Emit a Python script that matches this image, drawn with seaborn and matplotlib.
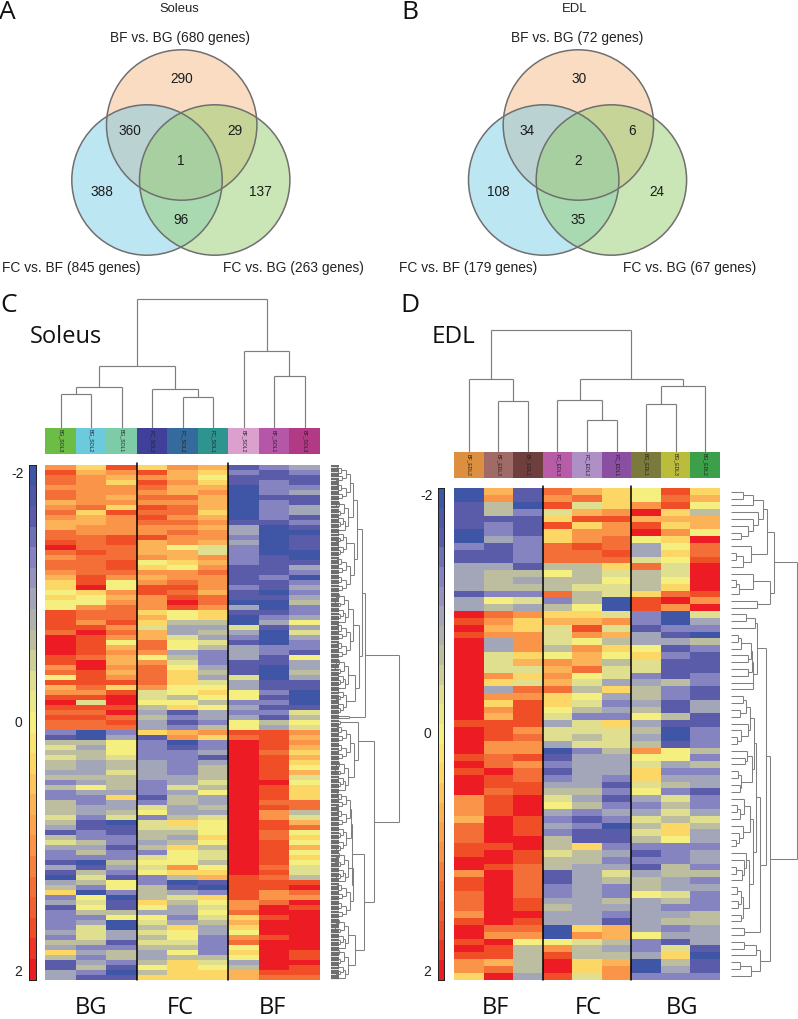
import numpy as np
import pandas as pd
import matplotlib.pyplot as plt
import seaborn as sns
from matplotlib.colors import LinearSegmentedColormap, ListedColormap
from matplotlib.patches import Circle

W, H = 798, 1019

# heatmap values in steps of 1/3 z-score (-6 = -2, 6 = 2)
soleus_rows = [
    [3,1,5,1,3,2,-5,-4,-3],[5,2,3,5,2,1,-4,-5,-4],[4,3,2,3,2,0,-5,-5,-5],[4,3,1,5,3,1,-5,-4,-5],
    [3,3,3,4,2,2,-6,-4,-4],[4,3,3,3,2,3,-6,-4,-3],[4,3,2,4,4,2,-6,-5,-5],[2,3,3,3,3,2,-6,-4,-5],
    [3,4,1,5,4,2,-6,-4,-3],[4,1,5,4,4,1,-6,-4,-3],[3,2,3,5,3,2,-6,-4,-5],[2,2,3,4,4,3,-5,-5,-4],
    [2,3,3,3,3,2,-3,-6,-5],[4,3,3,3,4,3,-3,-6,-6],[4,4,5,5,3,3,-4,-6,-5],[5,4,5,2,3,2,-3,-6,-5],
    [6,4,4,2,0,-1,-4,-6,-5],[4,5,4,2,2,-1,-4,-6,-6],[3,4,4,3,2,3,-4,-5,-6],[4,4,5,0,1,2,-4,-5,-5],
    [4,4,5,1,0,3,-5,-5,-3],[3,4,4,3,3,4,-5,-5,-4],[2,5,3,2,3,3,-5,-4,-6],[1,5,0,3,4,3,-5,-5,-4],
    [1,6,0,5,5,3,-4,-5,-3],[0,1,3,5,4,2,-5,-6,-4],[1,0,2,3,5,4,-5,-5,-3],[0,0,3,3,6,4,-6,-6,-2],
    [0,3,4,3,5,3,-3,-6,-4],[5,4,4,1,0,1,-5,-5,-4],[5,4,4,2,0,1,-6,-4,-3],[5,3,5,1,-2,-2,-6,-3,0],
    [5,5,3,-1,-3,-3,-1,-5,-3],[4,6,4,2,-3,-2,-3,-6,-1],[6,5,3,2,-1,-3,-4,-6,-3],[6,5,0,4,0,-1,-5,-6,-4],
    [6,5,2,4,0,-2,-3,-4,-4],[6,5,3,3,-3,-4,-3,-4,-5],[5,4,2,0,-2,-4,-3,-5,0],[5,6,2,3,-1,-4,-5,-5,-3],
    [3,6,3,4,0,-3,-5,-6,-3],[4,5,2,4,1,-2,-5,-6,-2],[0,5,3,4,1,-3,-1,-6,-3],[5,5,5,4,1,-1,-3,-5,-5],
    [2,4,1,3,0,0,-3,-5,-5],[3,3,5,-1,0,1,0,-4,-6],[5,5,6,-1,-2,0,0,-5,-6],[6,-1,6,0,0,-2,-4,-4,-6],
    [5,5,5,-2,1,0,-3,-5,-5],[4,4,6,-3,-5,-3,-4,-4,-1],[5,5,4,-2,-4,-3,-3,-5,-2],[4,4,5,-3,-5,-4,0,-2,0],
    [4,4,4,-3,-4,-2,0,-3,-1],[-4,-6,-4,1,2,3,5,5,3],[-5,-6,-3,-5,3,1,4,5,2],[-2,-2,0,-4,-6,-4,6,5,3],
    [-1,-3,0,-4,-5,-4,6,5,2],[-2,-2,0,-4,-4,-3,6,4,1],[-1,-2,-1,-4,-4,-5,6,5,2],[-2,-3,-2,-3,-4,-3,6,5,1],
    [-2,-3,-2,-3,-4,-2,6,5,0],[-3,-3,-1,-3,-4,-2,6,5,2],[-2,-2,-2,-3,-3,-2,6,5,-1],[-4,-3,-2,-4,-3,-1,6,6,0],
    [-2,0,-2,-4,-1,-2,6,5,1],[-4,-3,-3,-4,-3,0,6,5,1],[-4,-4,1,-5,-2,-3,6,5,1],[-2,-4,-3,-4,-2,-3,6,4,4],
    [-2,-3,-3,-1,-3,-2,6,5,4],[-2,-3,-2,0,-3,-3,6,3,-2],[-1,-4,-1,-4,-2,-1,6,3,-1],[-2,-5,-6,-1,1,0,6,5,2],
    [-3,-5,-5,-1,-1,0,6,5,4],[-5,-4,-5,-2,-2,0,6,4,0],[-2,-4,-4,-2,-3,1,6,4,1],[-1,-2,-4,-3,-2,0,6,5,0],
    [-3,-3,-5,-2,1,-2,6,5,2],[-4,-2,-4,-4,0,-1,6,5,0],[-4,-4,-4,-1,0,-1,6,5,1],[-5,-6,-2,0,0,-2,6,5,0],
    [-3,-5,-3,-1,3,0,6,4,-1],[-5,-2,-4,0,1,1,6,5,-1],[-6,-1,-5,-4,-2,2,5,4,-2],[-3,-2,0,-4,-6,-5,5,5,5],
    [-2,-4,0,-2,-5,-6,5,5,6],[1,-6,-4,-2,-3,-4,5,3,4],[-4,0,-6,-2,-1,1,5,3,3],[-3,-1,-5,1,-2,0,3,4,6],
    [-5,0,-5,0,-3,-1,3,6,5],[-4,-2,-2,-3,-3,0,4,6,6],[-4,-4,0,0,-4,-1,1,5,6],[-4,-3,-6,-1,-3,-2,2,6,6],
    [-4,-1,-6,-2,1,-3,1,6,6],[-3,-1,-3,-1,0,-3,0,6,6],[-4,-1,-3,-2,0,-4,3,5,6],[-2,-2,-5,-1,-1,-4,4,6,6],
    [-3,-4,-4,-2,-2,-4,0,6,6],[1,-3,-2,-3,0,-4,1,6,5],[-2,-4,-2,-3,-2,-2,0,6,5],[-5,-3,-4,-2,1,-1,-3,6,6],
    [-5,-2,-5,0,1,0,-2,6,5],[-3,-4,-6,-2,1,1,2,5,5],[-3,-5,-5,1,1,1,2,4,4],
]

edl_rows = [
    [-6,2,-5,4,2,1,0,5,1],[-6,3,-5,3,4,1,0,4,2],[-5,-2,-6,5,-1,1,3,5,0],[-5,-2,-4,-1,2,3,6,1,-2],
    [-5,-5,-5,1,5,5,2,2,2],[-5,-4,-5,5,1,3,5,1,2],[-6,-4,-5,1,3,3,6,3,0],[-6,-3,-4,1,3,4,0,1,6],
    [-4,-5,-4,4,5,4,-3,0,4],[-5,-5,-4,4,4,5,-3,1,4],[-5,-5,-4,4,4,4,-1,0,5],[-3,-3,-5,-2,-2,1,4,-1,6],
    [-3,-2,-2,0,-2,-1,-2,-1,6],[-3,-2,-3,-2,-2,0,-2,0,6],[-3,-2,-2,-2,-1,-1,-2,1,6],[-5,-4,-4,4,-2,-1,1,4,5],
    [-3,0,-1,-4,-2,-6,5,6,3],[-3,-2,-3,-2,0,-6,5,3,6],[6,4,3,1,1,-1,-4,-6,-1],[5,3,1,2,2,3,-4,-6,-3],
    [6,2,1,-1,5,-1,-5,-4,-4],[5,3,3,-1,3,2,-3,-5,-6],[6,-3,3,-1,0,-2,-3,-3,-2],[6,-3,3,-2,3,1,0,-5,-4],
    [6,-1,1,0,2,0,1,-4,-5],[6,-1,2,3,2,-2,-1,-5,-5],[6,-1,-1,2,4,-1,-1,-5,-5],[6,3,1,3,0,-1,-4,-5,-4],
    [6,1,-1,2,-1,-3,-3,-2,-4],[6,-3,4,4,-2,1,-2,-4,-5],[6,3,3,1,0,-3,-2,-4,-5],[6,1,5,1,-1,-4,-3,-5,-3],
    [6,3,5,0,-2,-3,-2,-5,-3],[6,2,5,-1,-4,-4,0,-2,-5],[5,5,5,-3,-1,1,-3,-5,-5],[6,5,3,-1,-1,-1,-2,-6,-4],
    [6,5,4,-1,-2,-1,-3,-6,-4],[6,3,3,-3,-1,-1,-2,-5,-4],[6,3,3,-6,-4,-2,3,0,-2],[5,4,5,-5,-3,-3,0,0,-4],
    [6,4,3,-4,-3,-3,-1,-3,-2],[5,6,4,-5,-3,-3,1,-4,-4],[6,5,4,-4,-3,-4,1,-3,-3],[6,5,5,-3,-3,-5,-1,-2,-3],
    [6,4,5,-2,-2,-4,0,-4,-5],[3,5,6,-1,-3,-5,-3,-1,-4],[3,5,6,0,-2,-4,-4,-2,-4],[3,5,6,-3,-4,-3,-3,-1,-3],
    [2,6,5,-4,-5,-4,-1,-2,-1],[4,6,5,-3,-4,-6,-2,1,-2],[4,6,5,-4,-5,-5,-1,1,-3],[4,6,6,-2,-5,-5,-2,0,-3],
    [5,5,6,-2,1,-4,-4,-4,-4],[5,6,5,-1,-2,-3,-5,-4,-3],[6,6,5,-2,-2,-4,-4,-4,-3],[6,5,4,-2,-3,-3,-5,-2,-4],
    [3,6,4,-5,-3,-1,-3,-2,-2],[5,6,4,-5,-3,-2,-2,-3,-4],[5,6,4,-4,-3,-4,-2,-3,-3],[4,6,4,-4,-3,-4,0,-1,-4],
    [4,6,5,-3,-3,-2,-3,-2,-4],[4,6,5,-2,-3,-3,-3,-4,-4],[3,6,6,-3,-3,-4,-3,-3,-2],[5,6,5,-3,-3,-5,-3,-2,-2],
    [6,4,4,-6,1,2,-3,-4,-3],[6,3,3,-6,3,2,0,-3,-3],[5,6,0,0,-1,-2,-4,-5,-3],[6,5,-2,3,-2,-3,-4,-1,-5],
    [5,5,-2,5,-2,-2,-3,1,-6],[3,2,-2,6,1,2,-6,-2,-5],[3,4,-2,6,1,3,-6,-3,-5],[1,6,-3,5,-1,3,-4,-4,-4],
]

soleus_samples = ["BG_SOL3", "BG_SOL2", "BG_SOL1", "FC_SOL3", "FC_SOL2", "FC_SOL1", "BF_SOL2", "BF_SOL1", "BF_SOL3"]
edl_samples = ["BF_EDL2", "BF_EDL3", "BF_EDL1", "FC_EDL3", "FC_EDL2", "FC_EDL1", "BG_EDL1", "BG_EDL3", "BG_EDL2"]
soleus_groups = ["BG", "FC", "BF"]
edl_groups = ["BF", "FC", "BG"]

soleus_strip = ["#6cbd45", "#6bcbdc", "#7ecba8", "#40409a", "#356a9c", "#2e9490", "#dca0cf", "#b556a8", "#b23a85"]
edl_strip = ["#dc8f3e", "#a06b66", "#6e3f3c", "#b85ca8", "#ae8fc6", "#8a4fa0", "#7a7a3c", "#bcbc3c", "#3ca04a"]

heat_colors = ["#3f55a5", "#5b5ca9", "#8583c0", "#a3a5b8", "#bdbda0", "#dfdf8f", "#f5ef80",
               "#fdd765", "#fcb357", "#f99448", "#f46f38", "#f04e27", "#ed1c24"]

# dendrograms: 0 is a leaf, otherwise [height in px, left, right]
soleus_col_tree = [129, [62, [41, [34, 0, 0], 0], [39, 0, [31, 0, 0]]], [77, 0, [52, 0, 0]]]
edl_col_tree = [122, [73, 0, [51, 0, 0]], [73, [52, 0, [32, 0, 0]], [66, [48, 0, 0], 0]]]

t5 = [12, [7, 0, 0], [9, 0, [5, 0, 0]]]
t6 = [13, [8, 0, [5, 0, 0]], [9, [4, 0, 0], 0]]
t7 = [15, [10, [6, 0, 0], [7, 0, 0]], [11, 0, [5, 0, 0]]]
# the soleus tree has many more leaves than the rows kept above
t10 = [15, t5, t5]
t12 = [17, t6, [14, t5, 0]]
t14 = [19, t7, t7]
sol_upper = [34, [31, [26, [22, t14, t12], [23, t10, t14]], [28, [22, t12, t14], [24, t12, t10]]], [18, 0, 0]]
sol_lower = [43, [27, [9, 0, 0], [23, t14, t12]], [33, [21, [20, t14, t10], [22, t12, t14]], [24, t12, t12]]]
soleus_row_tree = [68, sol_upper, sol_lower]

e_s1 = [32, [22, [12, 0, 0], 0], [27, 0, [22, 0, [17, 0, [10, 0, 0]]]]]
e_s2 = [20, 0, [12, [5, 0, 0], 0]]
e_s3 = [22, 0, [8, [5, 0, 0], 0]]
e_top = [43, [36, e_s1, e_s2], [39, e_s3, [26, 0, 0]]]
e_s5 = [26, [24, [15, 0, 0], 0], [22, [21, [20, [10, [7, 0, 0], 0], [17, 0, 0]], [17, 0, 0]], [22, 0, 0]]]
e_a = [19, [15, [12, 0, 0], [9, 0, 0]], [17, 0, [10, 0, [6, 0, 0]]]]
e_b = [21, [16, 0, [14, 0, 0]], [10, [7, 0, 0], [9, 0, 0]]]
e_c = [22, [19, [13, 0, [9, [6, 0, 0], 0]], [12, 0, [8, 0, [5, 0, 0]]]],
       [18, [15, 0, [13, 0, [11, [5, 0, 0], 0]]], [12, [10, [6, 0, 0], [7, 0, 0]], [10, 0, 0]]]]
e_s6 = [25, [23, e_a, e_b], e_c]
e_last = [29, [25, [13, 0, 0], 0], [20, [9, 0, 0], 0]]
e_bottom = [39, [35, e_s5, [29, e_s6, [13, 0, 0]]], e_last]
edl_row_tree = [66, e_top, e_bottom]

venn_a = ["290", "360", "29", "1", "388", "137", "96"]
venn_b = ["30", "34", "6", "2", "108", "24", "35"]
venn_a_sets = ["BF vs. BG (680 genes)", "FC vs. BF (845 genes)", "FC vs. BG (263 genes)"]
venn_b_sets = ["BF vs. BG (72 genes)", "FC vs. BF (179 genes)", "FC vs. BG (67 genes)"]

sns.set_theme(style="white")
plt.rcParams["font.family"] = ["Liberation Sans", "DejaVu Sans"]

cmap = LinearSegmentedColormap.from_list("expr", heat_colors, N=25)
fig = plt.figure(figsize=(W / 100, H / 100), dpi=100)


def px_ax(x0, y0, x1, y1):
    ax = fig.add_axes([x0 / W, 1 - y1 / H, (x1 - x0) / W, (y1 - y0) / H])
    ax.axis("off")
    return ax


def count_leaves(node):
    if node == 0:
        return 1
    return count_leaves(node[1]) + count_leaves(node[2])


def tree_segments(node, leaves, segs):
    if node == 0:
        return next(leaves), 0
    h, a, b = node
    pa, ha = tree_segments(a, leaves, segs)
    pb, hb = tree_segments(b, leaves, segs)
    segs += [(pa, ha, pa, h), (pb, hb, pb, h), (pa, h, pb, h)]
    return (pa + pb) / 2, h


def col_tree(ax, tree):
    n = count_leaves(tree)
    segs = []
    tree_segments(tree, iter(np.arange(n) + 0.5), segs)
    for p0, h0, p1, h1 in segs:
        ax.plot([p0, p1], [h0, h1], color="#7d7d7d", lw=0.85, solid_capstyle="butt")
    ax.set_xlim(0, n)
    ax.set_ylim(0, 135)


def row_tree(ax, tree, top):
    n = count_leaves(tree)
    segs = []
    tree_segments(tree, iter(np.arange(n) + 0.5), segs)
    for p0, h0, p1, h1 in segs:
        ax.plot([h0, h1], [p0, p1], color="#808080", lw=0.75, clip_on=False, solid_capstyle="butt")
    ax.set_xlim(0, top)
    ax.set_ylim(n, 0)
    return n


def heat_panel(rows, samples, strip, x0, x1, heat_top, strip_top, cbar_x):
    bottom = 979.5
    values = pd.DataFrame(np.array(rows) / 3, columns=samples)
    ax = px_ax(x0, heat_top, x1, bottom)
    cax = px_ax(cbar_x, heat_top, cbar_x + 6.6, bottom)
    sns.heatmap(values, cmap=cmap, vmin=-2, vmax=2, ax=ax, cbar_ax=cax, cbar_kws={"ticks": []},
                xticklabels=False, yticklabels=False, rasterized=True)
    ax.set_ylabel("")
    cax.axis("on")
    cax.invert_yaxis()
    for s in cax.spines.values():
        s.set_visible(True)
        s.set_color("#222222")
        s.set_linewidth(0.7)
    for x in (3, 6):
        ax.plot([x, x], [-0.4, len(rows)], color="black", lw=1.1, clip_on=False)
    sax = px_ax(x0, strip_top, x1, strip_top + 26)
    sns.heatmap(np.arange(9)[None, :], cmap=ListedColormap(strip), cbar=False, ax=sax,
                xticklabels=False, yticklabels=False)
    for i, name in enumerate(samples):
        sax.text(i + 0.5, 0.5, name, rotation=270, ha="center", va="center", fontsize=3.7, color="#222222")
    return ax


heat_panel(soleus_rows, soleus_samples, soleus_strip, 45.3, 320, 465, 428, 29.3)
heat_panel(edl_rows, edl_samples, edl_strip, 454, 720, 488.3, 451.7, 437.6)

col_tree(px_ax(45.3, 293, 320, 428), soleus_col_tree)
col_tree(px_ax(454, 316.7, 720, 451.7), edl_col_tree)

rax = px_ax(331, 465, 400, 979.5)
n_sol = row_tree(rax, soleus_row_tree, 69)
rax.hlines(np.arange(n_sol) + 0.5, 0, 8, color="#6e6e6e", lw=1.6)
row_tree(px_ax(731, 488.3, 798, 979.3), edl_row_tree, 67)

# overlay in pixel coordinates for the venns and all free text
top = px_ax(0, 0, W, H)
top.set_xlim(0, W)
top.set_ylim(H, 0)
top.patch.set_alpha(0)
for x_off, counts, sets in [(0, venn_a, venn_a_sets), (396.7, venn_b, venn_b_sets)]:
    centres = [(181.7 + x_off, 125), (147 + x_off, 180), (214.7 + x_off, 180)]
    fills = [((246/255, 178/255, 122/255), 0.45), ((110/255, 200/255, 230/255), 0.45), ((150/255, 205/255, 110/255), 0.5)]
    for c, (col, a) in zip(centres, fills):
        top.add_patch(Circle(c, 75.2, facecolor=col, alpha=a, edgecolor="none"))
    for c in centres:
        top.add_patch(Circle(c, 75.2, fill=False, edgecolor="#6f6f6f", lw=1.1))
    spots = [(182, 79), (130, 131), (235, 131), (181, 161), (102, 192), (260, 192), (181, 220)]
    for (x, y), label in zip(spots, counts):
        top.text(x + x_off, y, label, ha="center", va="center", fontsize=9.8, color="#1c1c1c")
    label_spots = [(180, 38), (71, 268), (293, 268)]
    for (x, y), label in zip(label_spots, sets):
        top.text(x + x_off, y, label, ha="center", va="center", fontsize=9.9, color="#222222")

top.text(179, 9, "Soleus", ha="center", va="center", fontsize=9.4, color="#222222")
top.text(575, 9, "EDL", ha="center", va="center", fontsize=9.4, color="#222222")

big = ["Open Sans", "DejaVu Sans"]
for x, y, s in [(-1, 12, "A"), (401, 12, "B"), (0, 306, "C"), (400, 306, "D")]:
    top.text(x, y, s, ha="left", va="center", fontsize=19, family=big, color="#111111")
top.text(30, 337, "Soleus", ha="left", va="center", fontsize=17, family=big, color="#111111")
top.text(432, 337, "EDL", ha="left", va="center", fontsize=17.5, family=big, color="#111111")

for x, s in zip((90.7, 180.7, 272), soleus_groups):
    top.text(x, 1008, s, ha="center", va="center", fontsize=17, family=big, color="#111111")
for x, s in zip((495.7, 588, 682), edl_groups):
    top.text(x, 1008, s, ha="center", va="center", fontsize=17, family=big, color="#111111")

for x, y, s in [(18, 474, "-2"), (18, 723, "0"), (18, 972, "2"), (427, 496, "-2"), (427, 734, "0"), (427, 972, "2")]:
    top.text(x, y, s, ha="center", va="center", fontsize=10, color="#222222")

plt.savefig("out.png", dpi=100)
